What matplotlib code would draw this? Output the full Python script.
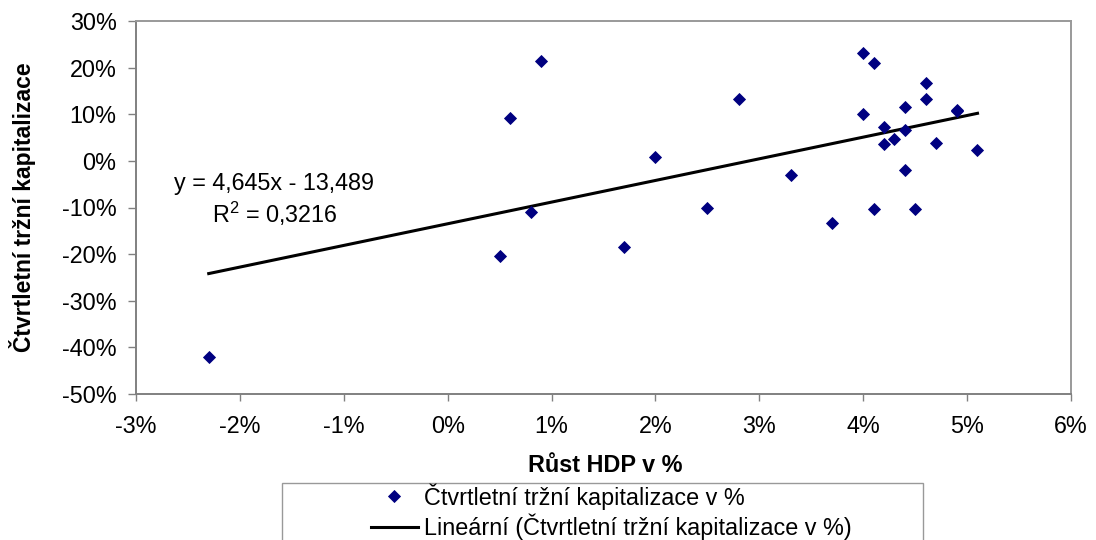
import matplotlib
matplotlib.use("Agg")
import matplotlib.pyplot as plt
from matplotlib.patches import Rectangle
from matplotlib.ticker import FuncFormatter, MultipleLocator

plt.rcParams['font.family'] = ['Liberation Sans', 'DejaVu Sans']
plt.rcParams['mathtext.fontset'] = 'custom'
plt.rcParams['mathtext.rm'] = 'Liberation Sans'

# rust HDP (%) a ctvrtletni trzni kapitalizace (%)
hdp = [-2.3, 0.5, 0.6, 0.8, 0.9, 1.7, 2.0, 2.5, 2.8, 3.3, 3.7, 4.0, 4.0, 4.1, 4.1,
       4.2, 4.2, 4.3, 4.4, 4.4, 4.4, 4.5, 4.6, 4.6, 4.7, 4.9, 4.9, 5.1]
kap = [-42.0, -20.4, 9.2, -10.9, 21.4, -18.5, 0.8, -10.0, 13.3, -3.0, -13.3, 23.2, 10.1, 21.0, -10.4,
       7.2, 3.6, 4.6, 11.6, 6.6, -1.9, -10.4, 16.8, 13.3, 3.9, 11.0, 10.6, 2.3]

# linearni trend (z rovnice v grafu)
slope = 4.645
intercept = -13.489
r2 = 0.3216

navy = "#000080"
gray = "#808080"
fs = 16.8

fig = plt.figure(figsize=(10.96, 5.4), dpi=100)
ax = fig.add_axes([136/1096, 1 - 394/540, (1071 - 136)/1096, (394 - 21)/540])

ax.plot(hdp, kap, linestyle="none", marker="D", markersize=5.8, color=navy,
        markeredgewidth=0.6, label="Čtvrtletní tržní kapitalizace v %", zorder=3)
xs = [min(hdp), max(hdp)]
ys = [slope * v + intercept for v in xs]
ax.plot(xs, ys, color="black", linewidth=2.2,
        label="Lineární (Čtvrtletní tržní kapitalizace v %)", zorder=2)

ax.text(-2.63, -4.8, "y = 4,645x - 13,489", fontsize=fs, va="center", ha="left")
ax.text(-2.27, -11.3, "R$^2$ = " + str(r2).replace(".", ","), fontsize=fs, va="center", ha="left")

ax.set_xlim(-3, 6)
ax.set_ylim(-50, 30)
ax.xaxis.set_major_locator(MultipleLocator(1))
ax.yaxis.set_major_locator(MultipleLocator(10))
fmt = FuncFormatter(lambda v, p: "%d%%" % round(v))
ax.xaxis.set_major_formatter(fmt)
ax.yaxis.set_major_formatter(fmt)
ax.tick_params(axis="y", direction="out", length=6, width=1, color=gray, labelsize=fs, pad=8)
ax.tick_params(axis="x", direction="out", length=5, width=1, color=gray, labelsize=fs, pad=10)

for s in ["left", "bottom"]:
    ax.spines[s].set_color(gray)
    ax.spines[s].set_linewidth(1.4)
for s in ["top", "right"]:
    ax.spines[s].set_color("#999999")
    ax.spines[s].set_linewidth(1.4)

fig.text(23/1096, 0.5 * ((1 - 21/540) + (1 - 394/540)), "Čtvrtletní tržní kapitalizace",
         rotation=90, fontsize=16.5, fontweight="bold", ha="center", va="center")
fig.text(605/1096, 1 - 466/540, "Růst HDP v %", fontsize=fs, fontweight="bold",
         ha="center", va="center")

# ramecek legendy (presahuje spodni okraj)
fig.patches.append(Rectangle((282/1096, -0.05), (923 - 282)/1096, (1 - 483/540) + 0.05,
                             transform=fig.transFigure, fill=False, edgecolor="#999999",
                             linewidth=1.0))
fig.legend(loc="upper left", bbox_to_anchor=(371/1096, 1 - 483/540), frameon=False,
           fontsize=fs, borderpad=0, borderaxespad=0, handlelength=2.0,
           handletextpad=0.26, labelspacing=0.18, numpoints=1)

fig.savefig("out.png", dpi=100)
